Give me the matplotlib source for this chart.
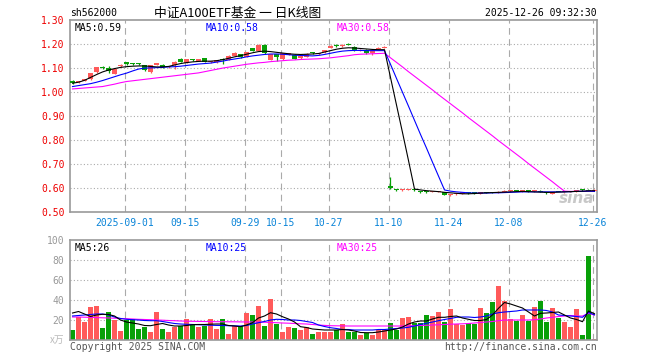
import matplotlib
matplotlib.use('Agg')
import matplotlib.pyplot as plt
import numpy as np

# ---------------- data ----------------
open_ = [1.047,1.040,1.046,1.052,1.082,1.100,1.101,1.076,1.108,1.119,
         1.118,1.116,1.111,1.082,1.114,1.114,1.103,1.110,1.137,1.122,
         1.132,1.130,1.140,1.125,1.124,1.132,1.133,1.150,1.157,1.146,
         1.181,1.172,1.197,1.133,1.158,1.136,1.154,1.154,1.141,1.147,
         1.162,1.156,1.166,1.185,1.193,1.190,1.198,1.186,1.172,1.175,
         1.161,1.180,1.183,
         0.606,0.594,0.589,0.590,0.592,0.584,0.584,0.583,0.583,0.580,
         0.567,0.573,0.575,0.578,0.578,0.575,0.580,0.580,0.578,0.583,
         0.585,0.588,0.585,0.586,0.584,0.586,0.580,0.575,0.582,0.580,
         0.582,0.585,0.590,0.590,0.587]
high = [1.050,1.045,1.054,1.080,1.105,1.106,1.106,1.096,1.116,1.123,
        1.122,1.119,1.114,1.112,1.119,1.116,1.106,1.128,1.140,1.136,
        1.135,1.137,1.142,1.130,1.133,1.140,1.152,1.166,1.160,1.166,
        1.183,1.198,1.199,1.160,1.160,1.163,1.162,1.156,1.152,1.162,
        1.166,1.162,1.176,1.195,1.199,1.198,1.203,1.190,1.180,1.178,
        1.178,1.187,1.190,
        0.645,0.596,0.592,0.594,0.594,0.586,0.586,0.585,0.586,0.581,
        0.573,0.576,0.578,0.580,0.579,0.582,0.582,0.582,0.585,0.589,
        0.590,0.590,0.588,0.588,0.587,0.588,0.582,0.580,0.583,0.583,
        0.587,0.590,0.592,0.592,0.593]
low = [1.034,1.036,1.044,1.050,1.080,1.094,1.080,1.074,1.104,1.113,
       1.113,1.111,1.089,1.080,1.110,1.101,1.098,1.095,1.124,1.120,
       1.128,1.128,1.124,1.122,1.122,1.115,1.131,1.148,1.143,1.144,
       1.170,1.170,1.160,1.131,1.130,1.134,1.152,1.135,1.139,1.145,
       1.157,1.154,1.164,1.183,1.188,1.188,1.194,1.172,1.170,1.160,
       1.153,1.178,1.181,
       0.592,0.587,0.586,0.588,0.586,0.578,0.578,0.580,0.582,0.568,
       0.565,0.570,0.573,0.574,0.575,0.574,0.576,0.576,0.577,0.580,
       0.582,0.584,0.583,0.582,0.583,0.582,0.574,0.573,0.580,0.578,
       0.580,0.583,0.586,0.585,0.586]
close = [1.037,1.044,1.052,1.078,1.103,1.099,1.085,1.094,1.114,1.118,
         1.117,1.115,1.092,1.110,1.116,1.103,1.104,1.126,1.126,1.135,
         1.131,1.135,1.126,1.127,1.131,1.131,1.150,1.164,1.145,1.165,
         1.172,1.197,1.162,1.158,1.147,1.161,1.161,1.137,1.150,1.160,
         1.161,1.158,1.174,1.193,1.192,1.197,1.197,1.174,1.176,1.162,
         1.176,1.185,1.188,
         0.599,0.590,0.590,0.593,0.591,0.583,0.583,0.584,0.585,0.571,
         0.568,0.574,0.577,0.577,0.576,0.581,0.578,0.578,0.583,0.585,
         0.587,0.586,0.586,0.584,0.586,0.583,0.576,0.578,0.581,0.582,
         0.585,0.588,0.588,0.587,0.590]

ma5 = [1.036,1.040,1.048,1.060,1.072,1.083,1.091,1.097,1.102,1.105,
       1.107,1.108,1.108,1.106,1.104,1.104,1.106,1.112,1.118,1.122,
       1.125,1.127,1.128,1.128,1.130,1.134,1.140,1.146,1.151,1.157,
       1.163,1.168,1.170,1.168,1.165,1.162,1.159,1.157,1.156,1.157,
       1.158,1.160,1.166,1.172,1.178,1.182,1.184,1.183,1.181,1.179,
       1.177,1.176,1.176,1.060,0.945,0.830,0.713,0.594,0.590,0.587,
       0.585,0.583,0.580,0.578,0.576,0.574,0.574,0.575,0.577,0.578,
       0.579,0.580,0.581,0.582,0.583,0.584,0.583,0.582,0.581,0.580,
       0.580,0.581,0.582,0.583,0.584,0.585,0.586,0.587]
ma10 = [1.022,1.026,1.030,1.034,1.040,1.047,1.055,1.063,1.071,1.078,
        1.087,1.095,1.099,1.100,1.101,1.102,1.104,1.105,1.107,1.110,
        1.113,1.116,1.118,1.120,1.124,1.128,1.133,1.137,1.141,1.146,
        1.150,1.153,1.156,1.158,1.158,1.157,1.155,1.153,1.152,1.151,
        1.150,1.152,1.156,1.161,1.166,1.170,1.172,1.173,1.173,1.172,
        1.172,1.172,1.172,1.115,1.056,0.998,0.940,0.881,0.822,0.765,
        0.706,0.648,0.590,0.585,0.582,0.580,0.578,0.577,0.577,0.577,
        0.578,0.578,0.579,0.580,0.581,0.582,0.582,0.582,0.582,0.582,
        0.582,0.582,0.582,0.583,0.584,0.584,0.585,0.584]
ma30 = [1.012,1.014,1.016,1.018,1.020,1.022,1.027,1.032,1.038,1.043,
        1.046,1.049,1.052,1.055,1.058,1.061,1.064,1.067,1.070,1.073,
        1.076,1.079,1.084,1.089,1.094,1.099,1.103,1.107,1.111,1.115,
        1.118,1.121,1.123,1.126,1.128,1.130,1.132,1.133,1.135,1.136,
        1.137,1.138,1.140,1.142,1.145,1.148,1.151,1.155,1.157,1.158,
        1.159,1.160,1.161,1.142,1.123,1.104,1.084,1.065,1.046,1.027,
        1.008,0.988,0.969,0.950,0.931,0.912,0.892,0.873,0.854,0.835,
        0.816,0.796,0.777,0.758,0.739,0.720,0.700,0.681,0.662,0.643,
        0.624,0.604,0.585,0.584,0.584,0.584,0.585,0.584]

volume = [10,22.7,18,33,34,12.3,28.3,20,9,20,
          20.7,11,13.3,8,28,11,8,13.3,14.3,21,
          15.7,13,14.3,20.7,11,21,6,14.3,14.3,27,
          25,34,14,41,16.3,8.3,13,12.3,10,13,
          6,8,8,8,10,16,8,8,5,7,
          5,10,10,17,10,22,23,17,17,25,
          24,28,18,31,16,15,17,16,32,27,
          38,54,39,21,19,25,19,33,39,18,
          32,22,18,13,31,5,84,1]
vma5 = [27,28.5,26,23.5,25,25.7,25.5,24,20,18,
        17,16,14.5,14.3,15.5,16.5,15,14,14,14.5,
        15.3,15.5,15.5,15.8,16,16,14.5,14,13.3,15,
        17.3,22,24,27.3,26,23.3,21,18,13.3,12.5,
        11,10.5,10,10,10,10.5,10,9,7.5,7.3,
        7.3,8,9,10,11,13,16,18,19,19,
        21,22.7,22.7,23.5,24,22,20.7,19.5,19.5,20.5,
        25,31.7,37.5,36,34,32,28,24,26.7,27,
        27.5,28,25,22,20.5,18.3,29,26.3]
vma10 = [24,24.5,25,25.5,26,26,25,23,21.5,20.7,
         20.3,20,19.5,19.3,19.3,18.5,17.5,16.5,16,15.7,
         15.5,15.3,15,14.8,14.6,14.5,14.3,14.2,14,14.5,
         16,17.3,18.5,20,20.7,20.5,20,20,19.5,18.5,
         17.5,15,13.5,12.3,11.5,10.5,10.5,10,10,10,
         10,10.5,10.5,11,11.5,12,12.7,14,15.5,16.7,
         18,19.3,20.5,21.5,22.7,23,23,22.5,23,24,
         26,27.3,28,28.5,29,30,30,30,30,29.5,
         28,25,24.5,24,23.5,22.7,27.5,25.2]
vma30 = [23,23,22.8,22.6,22.4,22.2,22,21.8,21.5,21.3,
         21,20.7,20.5,20.3,20,19.8,19.5,19.3,19,18.8,
         18.7,18.6,18.5,18.4,18.3,18.3,18.2,18.2,18.1,18,
         18,18,17.8,17.5,17.3,17,16.8,16.5,16.2,16,
         15.5,15,14.6,14.3,14.2,14.1,14,14,14,14,
         14,14,14,14,14,14,14.2,14.3,14.5,14.7,
         15,15.2,15.5,15.8,16,16.2,16.5,17,17.5,18,
         18.5,19.3,20,20,20,20,20,20.3,21,22,
         22.7,23.5,24,24.5,24,24,26.7,25]

date_idx = [9, 19, 29, 35, 43, 53, 63, 73, 87]
date_labels = ['2025-09-01', '09-15', '09-29', '10-15', '10-27',
               '11-10', '11-24', '12-08', '12-26']
price_ticks = [0.50, 0.60, 0.70, 0.80, 0.90, 1.00, 1.10, 1.20, 1.30]
vol_ticks = [20, 40, 60, 80, 100]

# ---------------- style ----------------
W, H = 660, 360
RED = '#ff5a5a'
GREEN = '#08a008'
GRID = '#aaaaaa'
SPINE = '#999999'
MONO = 'DejaVu Sans Mono'
CJK = ['Noto Sans CJK SC', 'DejaVu Sans']
LW = 0.8

fig = plt.figure(figsize=(6.6, 3.6), dpi=100)
fig.patch.set_facecolor('white')


def rect(x0, y0, x1, y1):
    return [x0 / W, 1 - y1 / H, (x1 - x0) / W, (y1 - y0) / H]


axp = fig.add_axes(rect(70, 20, 597, 211.5))
axv = fig.add_axes(rect(70, 240, 597, 340))

n = len(close)
x = np.arange(n)
XL = (-0.42, 87.42)

for ax in (axp, axv):
    ax.set_xlim(*XL)
    for s in ax.spines.values():
        s.set_color(SPINE)
        s.set_linewidth(1.2)
    ax.tick_params(length=0)
    for di in date_idx:
        ax.axvline(di - 0.3, color=GRID, lw=0.8, ls=(0, (6, 4)), zorder=0)

# ---- price panel ----
axp.set_ylim(0.50, 1.30)
for t in price_ticks[1:-1]:
    axp.axhline(t, color=GRID, lw=0.8, ls=(0, (1, 2)), zorder=0)
axp.set_yticks(price_ticks)
axp.set_yticklabels(['%.2f' % t for t in price_ticks], color='#ee0000',
                    fontsize=7, family=MONO)
axp.tick_params(axis='y', pad=4)
axp.set_xticks([d - 0.3 for d in date_idx])
axp.set_xticklabels(date_labels, color='#0a84d8', fontsize=7, family=MONO)
axp.tick_params(axis='x', pad=5)

o = np.array(open_); c = np.array(close); hi = np.array(high); lo = np.array(low)
up = c >= o
cols = [RED if u else GREEN for u in up]
axp.vlines(x, lo, hi, colors=cols, lw=0.9, zorder=2)
body = np.maximum(np.abs(c - o), 0.0045)
axp.bar(x, body, bottom=np.minimum(o, c), width=0.8, color=cols, zorder=3,
        linewidth=0)
axp.plot(x, ma30, color='#ff00ff', lw=LW, zorder=4)
axp.plot(x, ma10, color='#0000ff', lw=LW, zorder=4)
axp.plot(x, ma5, color='black', lw=LW, zorder=5)

axp.text(0.0095, 0.985, 'MA5:%.2f' % ma5[-1], transform=axp.transAxes,
         va='top', ha='left', fontsize=7, family=MONO, color='black')
axp.text(0.258, 0.985, 'MA10:%.2f' % ma10[-1], transform=axp.transAxes,
         va='top', ha='left', fontsize=7, family=MONO, color='#0000ff')
axp.text(0.505, 0.985, 'MA30:%.2f' % ma30[-1], transform=axp.transAxes,
         va='top', ha='left', fontsize=7, family=MONO, color='#ff00ff')
axp.text(0.995, 0.07, 'sina', transform=axp.transAxes, ha='right',
         va='center', fontsize=11, fontweight='bold', style='italic',
         color='#c8c8c8', zorder=1)

# ---- volume panel ----
axv.set_ylim(0, 100)
for t in vol_ticks[:-1]:
    axv.axhline(t, color=GRID, lw=0.8, ls=(0, (1, 2)), zorder=0)
axv.set_yticks(vol_ticks)
axv.set_yticklabels([str(t) for t in vol_ticks], color='#999999',
                    fontsize=7, family=MONO)
axv.tick_params(axis='y', pad=4)
axv.set_xticks([])
axv.bar(x, volume, width=0.82, color=cols, linewidth=0, zorder=2)
axv.plot(x, vma30, color='#ff00ff', lw=LW, zorder=4)
axv.plot(x, vma10, color='#0000ff', lw=LW, zorder=4)
axv.plot(x, vma5, color='black', lw=LW, zorder=5)
axv.text(0.0095, 0.97, 'MA5:%d' % round(vma5[-1]), transform=axv.transAxes,
         va='top', ha='left', fontsize=7, family=MONO, color='black')
axv.text(0.258, 0.97, 'MA10:%d' % round(vma10[-1]), transform=axv.transAxes,
         va='top', ha='left', fontsize=7, family=MONO, color='#0000ff')
axv.text(0.505, 0.97, 'MA30:%d' % round(vma30[-1]), transform=axv.transAxes,
         va='top', ha='left', fontsize=7, family=MONO, color='#ff00ff')

# ---- figure texts ----
fig.text(70 / W, 1 - 13 / H, 'sh562000', fontsize=7, family=MONO,
         va='center', ha='left', color='black')
fig.text(238 / W, 1 - 13 / H, '中证A100ETF基金 一 日K线图', fontsize=9.2,
         family=CJK, va='center', ha='center', color='black')
fig.text(597 / W, 1 - 13 / H, '2025-12-26 09:32:30', fontsize=7,
         family=MONO, va='center', ha='right', color='black')
fig.text(70 / W, 1 - 347 / H, 'Copyright 2025 SINA.COM', fontsize=7,
         family=MONO, va='center', ha='left', color='#555555')
fig.text(597 / W, 1 - 347 / H, 'http://finance.sina.com.cn', fontsize=7,
         family=MONO, va='center', ha='right', color='#555555')
fig.text(57 / W, 1 - 340 / H, 'x万', fontsize=7, family=CJK,
         va='center', ha='center', color='#bbbbbb')

fig.savefig('out.png', dpi=100, facecolor='white')
